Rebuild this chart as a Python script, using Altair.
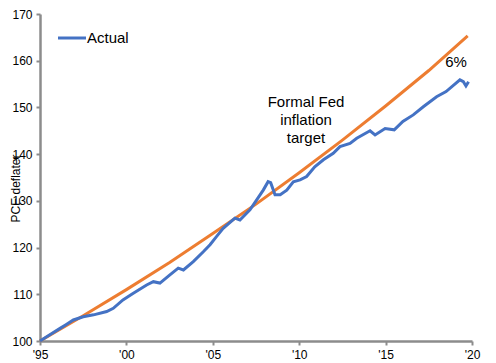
import altair as alt
import pandas as pd

actual_years = [1995.0, 1995.5, 1996.16, 1996.5, 1996.93, 1997.5, 1998.1, 1998.86, 1999.24, 1999.8,
                2000.4, 2001.17, 2001.56, 2001.94, 2002.5, 2003.0, 2003.3, 2003.87, 2004.45, 2004.84,
                2005.2, 2005.6, 2006.28, 2006.57, 2007.15, 2007.54, 2007.92, 2008.2, 2008.35, 2008.6,
                2008.9, 2009.28, 2009.66, 2010.05, 2010.43, 2010.9, 2011.4, 2011.97, 2012.36, 2012.94,
                2013.33, 2014.1, 2014.39, 2014.97, 2015.5, 2016.0, 2016.6, 2017.2, 2017.95, 2018.5,
                2019.3, 2019.5, 2019.65, 2019.8]
actual_values = [100.0, 101.2, 102.7, 103.5, 104.5, 105.2, 105.6, 106.3, 107.0, 108.8,
                 110.2, 112.0, 112.7, 112.4, 114.1, 115.6, 115.2, 117.0, 119.1, 120.6,
                 122.3, 124.1, 126.3, 125.9, 128.1, 130.2, 132.3, 134.1, 133.9, 131.3,
                 131.3, 132.3, 134.1, 134.5, 135.2, 137.3, 138.8, 140.2, 141.6, 142.3,
                 143.4, 145.0, 144.1, 145.5, 145.2, 147.0, 148.4, 150.2, 152.3, 153.4,
                 155.9, 155.5, 154.6, 155.5]

target_years = [1995.0, 1997.5, 2000.0, 2002.5, 2005.0, 2007.5, 2010.0, 2012.5, 2015.0, 2017.5, 2019.75]
target_values = [100.0, 105.4, 111.0, 116.8, 123.0, 129.3, 136.0, 143.0, 150.3, 157.9, 165.3]

x_ticks = [1995, 2000, 2005, 2010, 2015, 2020]
y_ticks = [100, 110, 120, 130, 140, 150, 160, 170]

BLUE = "#4472C4"
ORANGE = "#ED7D31"
AXIS = "#8C8C8C"
FONT = "Liberation Sans"

actual_df = pd.DataFrame({"year": actual_years, "value": actual_values})
target_df = pd.DataFrame({"year": target_years, "value": target_values})

x_enc = alt.X("year:Q", scale=alt.Scale(domain=[1995, 2020], nice=False, zero=False),
              axis=alt.Axis(values=x_ticks, title=None, grid=False, domainColor=AXIS, domainWidth=2.5,
                            tickColor=AXIS, tickWidth=2, tickSize=4, labelFont=FONT, labelFontSize=12,
                            labelColor="#000000", labelPadding=4, labelFlush=False,
                            labelExpr="\"'\" + slice(toString(datum.value), 2)"))
y_enc = alt.Y("value:Q", scale=alt.Scale(domain=[100, 170], nice=False, zero=False),
              axis=alt.Axis(values=y_ticks, title="PCE deflater", grid=False, domainColor=AXIS,
                            domainWidth=2.5, tickColor=AXIS, tickWidth=2, tickSize=4, labelFont=FONT,
                            labelFontSize=12, labelColor="#000000", labelPadding=4,
                            titleFont=FONT, titleFontSize=12, titleFontWeight="normal",
                            titleColor="#000000", titleAngle=270, titleX=-25, titleY=174,
                            titleAlign="center", titleBaseline="middle"))

actual_line = alt.Chart(actual_df).mark_line(color=BLUE, strokeWidth=3).encode(x=x_enc, y=y_enc)
target_line = alt.Chart(target_df).mark_line(color=ORANGE, strokeWidth=3).encode(x="year:Q", y="value:Q")

one = pd.DataFrame({"k": [0]})
legend_rule = alt.Chart(one).mark_rule(color=BLUE, strokeWidth=3).encode(
    x=alt.value(18), x2=alt.value(46), y=alt.value(24))
legend_text = alt.Chart(one).mark_text(text="Actual", font=FONT, fontSize=15, align="left",
                                       baseline="middle", color="#000000").encode(
    x=alt.value(47), y=alt.value(24))

ann = alt.Chart(one).mark_text(
    text=["Formal Fed", "inflation", "target"], lineHeight=18,
    font=FONT, fontSize=15, align="center", baseline="middle", color="#000000").encode(
    x=alt.value(266), y=alt.value(88))

six = alt.Chart(one).mark_text(text="6%", font=FONT, fontSize=15, align="center", baseline="middle",
                               color="#000000").encode(x=alt.value(416), y=alt.value(48))

chart = alt.layer(target_line, actual_line, legend_rule, legend_text, ann, six).properties(
    width=432, height=327,
    autosize=alt.AutoSizeParams(type="none"),
    padding={"left": 32, "top": 6, "right": 16, "bottom": 22},
).configure_view(stroke=None)

chart.save("out.html", embed_options={"renderer": "svg", "actions": False})
